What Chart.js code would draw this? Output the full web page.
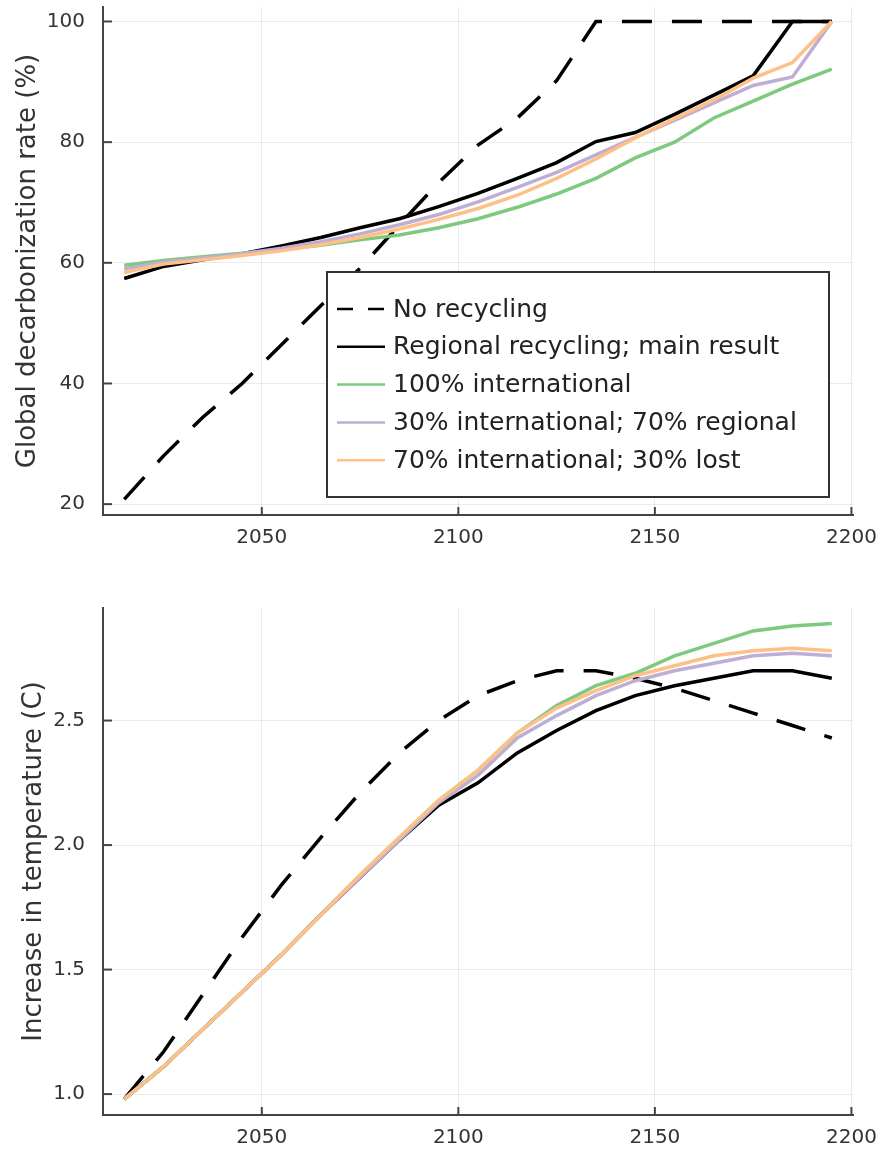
<!DOCTYPE html>
<html>
<head>
<meta charset="utf-8">
<script src="https://cdn.jsdelivr.net/npm/chart.js@4.4.1/dist/chart.umd.min.js"></script>
<style>
  html, body { margin: 0; padding: 0; background: #fff; }
  #wrap { position: relative; width: 883px; height: 1152px; }
  canvas { position: absolute; left: 0; }
  #topChart { top: 0; }
  #bottomChart { top: 580px; }
</style>
</head>
<body>
<div id="wrap">
  <canvas id="topChart" width="883" height="560"></canvas>
  <canvas id="bottomChart" width="883" height="572"></canvas>
</div>
<script>
// years (10-year steps)
const years = [2015, 2025, 2035, 2045, 2055, 2065, 2075, 2085, 2095, 2105,
               2115, 2125, 2135, 2145, 2155, 2165, 2175, 2185, 2195];

const seriesNames = ['No recycling', 'Regional recycling; main result', '100% international',
                     '30% international; 70% regional', '70% international; 30% lost'];

// global decarbonization rate (%)
const decarbNoRecycling = [20.8, 28.0, 34.4, 40.0, 46.4, 52.9, 59.1, 66.3, 73.3, 79.5,
                           84.0, 90.2, 100, 100, 100, 100, 100, 100, 100];
const decarbRegional = [57.4, 59.4, 60.5, 61.5, 62.8, 64.2, 65.8, 67.3, 69.3, 71.5,
                        74.0, 76.6, 80.1, 81.6, 84.6, 87.8, 91.0, 100, 100];
const decarbIntl100 = [59.6, 60.4, 61.0, 61.6, 62.2, 62.9, 63.8, 64.6, 65.8, 67.3,
                       69.2, 71.4, 74.0, 77.4, 80.0, 84.0, 86.8, 89.6, 92.1];
const decarbIntl30 = [59.0, 60.1, 60.8, 61.5, 62.4, 63.5, 64.8, 66.3, 68.0, 70.1,
                      72.5, 75.0, 77.9, 80.8, 83.6, 86.5, 89.4, 90.8, 100];
const decarbIntl70 = [58.4, 59.8, 60.5, 61.2, 62.0, 63.0, 64.2, 65.6, 67.2, 69.0,
                      71.2, 74.0, 77.2, 80.7, 83.9, 87.0, 90.6, 93.2, 100];

// increase in temperature (C)
const tempNoRecycling = [0.98, 1.17, 1.40, 1.63, 1.84, 2.03, 2.21, 2.37, 2.50, 2.60,
                         2.66, 2.70, 2.70, 2.67, 2.63, 2.58, 2.53, 2.48, 2.43];
const tempRegional = [0.98, 1.11, 1.26, 1.41, 1.56, 1.72, 1.87, 2.02, 2.16, 2.25,
                      2.37, 2.46, 2.54, 2.60, 2.64, 2.67, 2.70, 2.70, 2.67];
const tempIntl100 = [0.98, 1.11, 1.26, 1.41, 1.56, 1.72, 1.88, 2.03, 2.18, 2.30,
                     2.45, 2.56, 2.64, 2.69, 2.76, 2.81, 2.86, 2.88, 2.89];
const tempIntl30 = [0.98, 1.11, 1.26, 1.41, 1.56, 1.72, 1.87, 2.02, 2.17, 2.28,
                    2.43, 2.52, 2.60, 2.66, 2.70, 2.73, 2.76, 2.77, 2.76];
const tempIntl70 = [0.98, 1.11, 1.26, 1.41, 1.56, 1.72, 1.88, 2.03, 2.18, 2.30,
                    2.45, 2.55, 2.62, 2.68, 2.72, 2.76, 2.78, 2.79, 2.78];

// tick values
const xTicks = [2050, 2100, 2150, 2200];
const decarbTicks = [20, 40, 60, 80, 100];
const tempTicks = [1.0, 1.5, 2.0, 2.5];

// styles per series
const styles = [
  { color: '#000000', dash: [30, 20], order: 5 },
  { color: '#000000', dash: [], order: 4 },
  { color: '#7fc97f', dash: [], order: 3 },
  { color: '#beaed4', dash: [], order: 2 },
  { color: '#fdc086', dash: [], order: 1 }
];

const FONT = "'DejaVu Sans', sans-serif";
const TEXT = '#333333';
const AXIS = '#444444';

function makeDatasets(seriesList) {
  return seriesList.map((vals, i) => ({
    label: seriesNames[i],
    data: years.map((yr, j) => ({ x: yr, y: vals[j] })),
    borderColor: styles[i].color,
    backgroundColor: styles[i].color,
    borderDash: styles[i].dash,
    borderWidth: 3.5,
    pointRadius: 0,
    tension: 0,
    order: styles[i].order
  }));
}

// small inward tick marks on the axes
const innerTicks = {
  id: 'innerTicks',
  afterDatasetsDraw(chart) {
    const ctx = chart.ctx;
    const area = chart.chartArea;
    ctx.save();
    ctx.strokeStyle = AXIS;
    ctx.lineWidth = 2;
    chart.scales.x.ticks.forEach(t => {
      const px = chart.scales.x.getPixelForValue(t.value);
      ctx.beginPath();
      ctx.moveTo(px, area.bottom);
      ctx.lineTo(px, area.bottom - 8);
      ctx.stroke();
    });
    chart.scales.y.ticks.forEach(t => {
      const py = chart.scales.y.getPixelForValue(t.value);
      ctx.beginPath();
      ctx.moveTo(area.left, py);
      ctx.lineTo(area.left + 9, py);
      ctx.stroke();
    });
    ctx.restore();
  }
};

// boxed legend inside the top plot
const boxLegend = {
  id: 'boxLegend',
  afterDraw(chart) {
    if (!chart.options.plugins.boxLegend.show) return;
    const ctx = chart.ctx;
    const bx = 327, by = 272, bw = 502, bh = 225;
    ctx.save();
    ctx.fillStyle = '#ffffff';
    ctx.fillRect(bx, by, bw, bh);
    ctx.strokeStyle = '#333333';
    ctx.lineWidth = 2;
    ctx.strokeRect(bx, by, bw, bh);
    ctx.font = '25px ' + FONT;
    ctx.textBaseline = 'middle';
    chart.data.datasets.forEach((ds, i) => {
      const y = by + 37 + i * 37.8;
      ctx.strokeStyle = ds.borderColor;
      ctx.lineWidth = 2.5;
      ctx.setLineDash(ds.borderDash.length ? [16, 15] : []);
      ctx.beginPath();
      ctx.moveTo(bx + 10, y);
      ctx.lineTo(bx + 58, y);
      ctx.stroke();
      ctx.setLineDash([]);
      ctx.fillStyle = '#222222';
      ctx.fillText(ds.label, bx + 66, y + 1);
    });
    ctx.restore();
  }
};

function makeChart(canvasId, seriesList, yMin, yMax, yTickVals, yTitle, fmt, pad) {
  const ctx = document.getElementById(canvasId).getContext('2d');
  const h = document.getElementById(canvasId).height;
  return new Chart(ctx, {
    type: 'line',
    data: { datasets: makeDatasets(seriesList) },
    plugins: [innerTicks, boxLegend],
    options: {
      responsive: false,
      animation: false,
      devicePixelRatio: 1,
      layout: { padding: { top: pad.top, right: 30, left: 0, bottom: 0 } },
      plugins: {
        legend: { display: false },
        tooltip: { enabled: false },
        boxLegend: { show: pad.legend }
      },
      scales: {
        x: {
          type: 'linear',
          min: 2009.6,
          max: 2200.4,
          afterBuildTicks: s => { s.ticks = xTicks.map(v => ({ value: v })); },
          afterFit: s => { s.height = h - pad.bottom; s.paddingLeft = 0; s.paddingRight = 0; },
          ticks: { color: TEXT, font: { family: FONT, size: 20 }, padding: 11, maxRotation: 0,
                   callback: v => String(v) },
          grid: { color: 'rgba(0,0,0,0.08)', lineWidth: 1, drawTicks: false },
          border: { display: true, color: AXIS, width: 2 }
        },
        y: {
          type: 'linear',
          min: yMin,
          max: yMax,
          afterBuildTicks: s => { s.ticks = yTickVals.map(v => ({ value: v })); },
          afterFit: s => { s.width = 103; s.paddingTop = 0; s.paddingBottom = 0; },
          ticks: { color: TEXT, font: { family: FONT, size: 20 }, padding: 18, callback: fmt },
          grid: { color: 'rgba(0,0,0,0.08)', lineWidth: 1, drawTicks: false },
          border: { display: true, color: AXIS, width: 2 },
          title: {
            display: true,
            text: yTitle,
            color: TEXT,
            font: { family: FONT, size: 26 },
            padding: { top: pad.title, bottom: 0 }
          }
        }
      }
    }
  });
}

document.addEventListener('DOMContentLoaded', () => {
  makeChart('topChart',
    [decarbNoRecycling, decarbRegional, decarbIntl100, decarbIntl30, decarbIntl70],
    18.2, 102.4, decarbTicks, 'Global decarbonization rate (%)',
    v => String(v), { top: 7, bottom: 515, title: 13, legend: true });
  makeChart('bottomChart',
    [tempNoRecycling, tempRegional, tempIntl100, tempIntl30, tempIntl70],
    0.916, 2.952, tempTicks, 'Increase in temperature (C)',
    v => v.toFixed(1), { top: 28, bottom: 535, title: 19, legend: false });
});
</script>
</body>
</html>
